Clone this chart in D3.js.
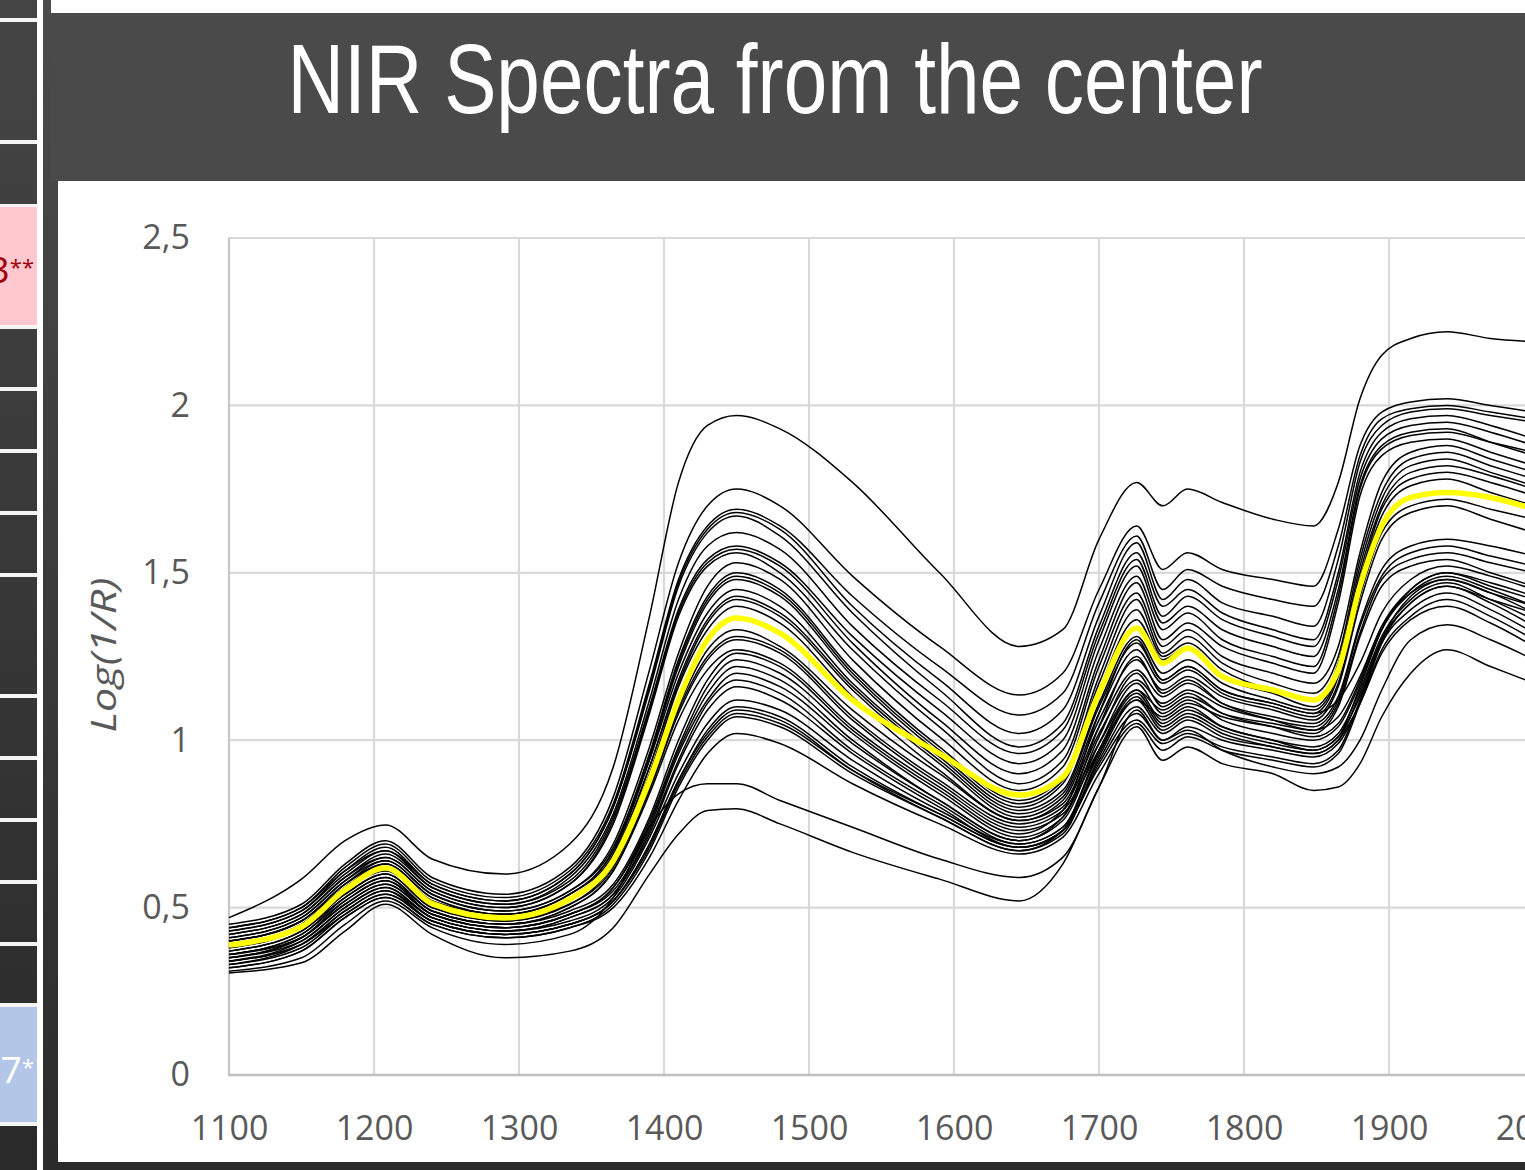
<!DOCTYPE html>
<html><head><meta charset="utf-8">
<script src="https://cdn.jsdelivr.net/npm/d3@7"></script>
<style>
html,body{margin:0;padding:0;background:#3a3a3a;overflow:hidden;}
svg{display:block;}
</style></head><body>
<svg id="c" width="1525" height="1170"></svg>
<script>
// ---------- DATA ----------
const titleText = "NIR Spectra from the center";
const yAxisTitle = "Log(1/R)";
const sideLabelNums = ["3", "7"];
const sideLabelMarks = ["**", "*"];
const xTicks = [1100, 1200, 1300, 1400, 1500, 1600, 1700, 1800, 1900, 2000];
const yTicks = [0, 0.5, 1, 1.5, 2, 2.5];
const yTickLabels = ["0", "0,5", "1", "1,5", "2", "2,5"];

const wavelengths = [1100,1150,1180,1208,1240,1290,1335,1365,1390,1410,1430,1450,1480,1530,1590,1645,1675,1700,1726,1744,1761,1785,1820,1848,1865,1880,1895,1915,1940,1970,2000];

const meanSpectrum = [0.388,0.443,0.553,0.618,0.512,0.469,0.525,0.64,0.88,1.12,1.30,1.365,1.32,1.12,0.96,0.836,0.89,1.14,1.335,1.23,1.275,1.19,1.15,1.12,1.21,1.46,1.64,1.725,1.74,1.725,1.69];

const spec01 = [0.47,0.585,0.70,0.747,0.645,0.60,0.69,0.92,1.37,1.77,1.94,1.97,1.93,1.77,1.50,1.28,1.33,1.60,1.77,1.70,1.75,1.71,1.66,1.64,1.77,2.02,2.15,2.20,2.22,2.20,2.19];
const spec02 = [0.45,0.51,0.63,0.70,0.59,0.54,0.62,0.83,1.21,1.53,1.70,1.75,1.70,1.49,1.28,1.135,1.20,1.45,1.64,1.51,1.56,1.51,1.48,1.46,1.63,1.88,1.98,2.01,2.02,2.00,1.98];
const spec03 = [0.44,0.50,0.62,0.69,0.58,0.53,0.61,0.81,1.17,1.48,1.64,1.69,1.64,1.43,1.22,1.075,1.14,1.41,1.61,1.45,1.51,1.46,1.42,1.40,1.58,1.85,1.96,1.99,2.00,1.98,1.96];
const spec04 = [0.43,0.49,0.61,0.68,0.57,0.52,0.60,0.80,1.16,1.47,1.63,1.68,1.63,1.40,1.18,1.02,1.09,1.37,1.59,1.42,1.48,1.41,1.37,1.34,1.54,1.83,1.94,1.98,1.99,1.97,1.95];
const spec05 = [0.44,0.50,0.61,0.67,0.57,0.52,0.60,0.80,1.15,1.46,1.62,1.67,1.61,1.38,1.15,0.98,1.05,1.34,1.56,1.40,1.45,1.38,1.33,1.30,1.50,1.80,1.92,1.96,1.97,1.94,1.90];
const spec06 = [0.42,0.48,0.59,0.66,0.56,0.51,0.59,0.78,1.12,1.42,1.58,1.62,1.57,1.34,1.12,0.96,1.03,1.32,1.54,1.37,1.43,1.36,1.31,1.28,1.48,1.78,1.90,1.94,1.95,1.92,1.88];
const spec07 = [0.43,0.49,0.60,0.67,0.56,0.51,0.58,0.77,1.10,1.39,1.54,1.58,1.53,1.31,1.09,0.93,1.00,1.30,1.52,1.35,1.40,1.33,1.28,1.25,1.45,1.76,1.88,1.92,1.93,1.89,1.85];
const spec08 = [0.41,0.47,0.58,0.65,0.55,0.50,0.57,0.76,1.09,1.38,1.53,1.57,1.52,1.29,1.06,0.90,0.97,1.27,1.49,1.33,1.38,1.30,1.25,1.22,1.43,1.75,1.87,1.91,1.92,1.89,1.86];
const spec09 = [0.42,0.48,0.59,0.65,0.55,0.50,0.57,0.75,1.08,1.37,1.52,1.56,1.50,1.27,1.04,0.87,0.94,1.24,1.47,1.30,1.35,1.28,1.23,1.20,1.41,1.73,1.85,1.89,1.90,1.86,1.82];
const spec10 = [0.40,0.46,0.57,0.64,0.54,0.49,0.55,0.69,0.98,1.26,1.46,1.53,1.48,1.24,1.01,0.85,0.92,1.22,1.44,1.28,1.33,1.25,1.20,1.17,1.28,1.56,1.77,1.86,1.88,1.84,1.80];
const spec11 = [0.41,0.47,0.58,0.64,0.54,0.49,0.55,0.68,0.96,1.24,1.43,1.50,1.45,1.21,0.98,0.82,0.89,1.19,1.42,1.26,1.31,1.23,1.17,1.14,1.25,1.54,1.74,1.84,1.86,1.82,1.78];
const spec12 = [0.40,0.46,0.57,0.63,0.53,0.48,0.54,0.67,0.95,1.23,1.42,1.49,1.44,1.20,0.97,0.81,0.88,1.17,1.39,1.25,1.29,1.21,1.15,1.12,1.23,1.52,1.72,1.82,1.84,1.80,1.76];
const spec13 = [0.39,0.45,0.56,0.63,0.53,0.48,0.54,0.67,0.95,1.22,1.41,1.48,1.43,1.19,0.96,0.80,0.87,1.15,1.36,1.24,1.28,1.19,1.14,1.10,1.21,1.50,1.70,1.80,1.82,1.79,1.75];
const spec14 = [0.40,0.46,0.56,0.62,0.52,0.48,0.54,0.66,0.94,1.20,1.38,1.45,1.40,1.17,0.95,0.79,0.85,1.11,1.31,1.20,1.24,1.17,1.12,1.09,1.20,1.48,1.69,1.78,1.80,1.77,1.73];
const spec15 = [0.39,0.45,0.56,0.62,0.52,0.47,0.53,0.65,0.92,1.18,1.36,1.43,1.38,1.16,0.94,0.78,0.84,1.10,1.29,1.18,1.22,1.15,1.11,1.08,1.19,1.47,1.67,1.76,1.78,1.74,1.70];
const spec16 = [0.38,0.44,0.55,0.61,0.51,0.47,0.53,0.65,0.92,1.17,1.35,1.42,1.37,1.15,0.93,0.77,0.83,1.08,1.27,1.17,1.21,1.14,1.10,1.07,1.17,1.43,1.62,1.70,1.72,1.69,1.66];
const spec17 = [0.39,0.44,0.55,0.61,0.51,0.46,0.52,0.64,0.90,1.16,1.33,1.40,1.35,1.13,0.91,0.76,0.82,1.06,1.24,1.15,1.19,1.13,1.09,1.06,1.16,1.41,1.60,1.68,1.70,1.66,1.62];
const spec18 = [0.37,0.43,0.54,0.60,0.50,0.46,0.51,0.63,0.87,1.10,1.27,1.33,1.28,1.09,0.90,0.76,0.81,1.04,1.21,1.13,1.17,1.11,1.07,1.05,1.13,1.35,1.51,1.58,1.60,1.58,1.55];
const spec19 = [0.38,0.44,0.54,0.60,0.50,0.46,0.51,0.62,0.86,1.09,1.25,1.31,1.27,1.07,0.88,0.75,0.80,1.02,1.18,1.11,1.15,1.10,1.06,1.04,1.12,1.34,1.49,1.56,1.58,1.55,1.52];
const spec20 = [0.37,0.43,0.53,0.59,0.49,0.45,0.50,0.61,0.85,1.08,1.24,1.30,1.26,1.06,0.87,0.74,0.79,0.99,1.15,1.09,1.13,1.08,1.05,1.03,1.11,1.32,1.48,1.54,1.56,1.53,1.50];
const spec21 = [0.36,0.42,0.53,0.59,0.49,0.45,0.50,0.61,0.84,1.06,1.21,1.27,1.23,1.04,0.86,0.73,0.78,0.97,1.12,1.07,1.11,1.07,1.04,1.02,1.10,1.31,1.46,1.52,1.54,1.50,1.46];
const spec22 = [0.36,0.42,0.52,0.58,0.49,0.45,0.49,0.57,0.77,1.00,1.18,1.26,1.22,1.03,0.85,0.72,0.79,1.08,1.30,1.18,1.22,1.15,1.11,1.08,1.12,1.23,1.38,1.48,1.52,1.49,1.45];
const spec23 = [0.35,0.41,0.52,0.58,0.48,0.44,0.48,0.56,0.76,0.98,1.16,1.24,1.20,1.02,0.84,0.71,0.77,1.01,1.20,1.10,1.14,1.08,1.04,1.01,1.05,1.18,1.34,1.45,1.50,1.46,1.42];
const spec24 = [0.36,0.41,0.51,0.57,0.48,0.44,0.48,0.56,0.75,0.97,1.14,1.22,1.18,1.00,0.82,0.70,0.76,0.99,1.17,1.08,1.12,1.06,1.02,1.00,1.04,1.17,1.33,1.44,1.49,1.45,1.40];
const spec25 = [0.35,0.41,0.51,0.57,0.48,0.44,0.48,0.55,0.74,0.96,1.12,1.20,1.16,0.99,0.82,0.70,0.77,1.04,1.25,1.14,1.18,1.11,1.06,1.03,1.07,1.19,1.34,1.44,1.48,1.44,1.38];
const spec26 = [0.34,0.40,0.50,0.56,0.47,0.43,0.47,0.54,0.73,0.94,1.11,1.18,1.14,0.97,0.81,0.69,0.74,0.97,1.14,1.05,1.09,1.04,1.00,0.98,1.02,1.15,1.31,1.42,1.47,1.42,1.36];
const spec27 = [0.35,0.40,0.50,0.56,0.47,0.43,0.47,0.54,0.72,0.93,1.09,1.16,1.12,0.96,0.80,0.68,0.73,0.94,1.10,1.02,1.06,1.01,0.98,0.96,1.00,1.14,1.30,1.41,1.46,1.41,1.34];
const spec28 = [0.34,0.39,0.49,0.55,0.47,0.43,0.46,0.53,0.71,0.90,1.05,1.12,1.09,0.94,0.79,0.69,0.74,0.96,1.13,1.04,1.08,1.03,0.99,0.97,1.01,1.13,1.29,1.39,1.44,1.39,1.32];
const spec29 = [0.33,0.39,0.49,0.55,0.46,0.42,0.45,0.52,0.69,0.88,1.03,1.10,1.07,0.92,0.78,0.68,0.73,0.93,1.08,1.00,1.04,1.00,0.97,0.95,0.99,1.11,1.27,1.37,1.42,1.37,1.30];
const spec30 = [0.34,0.39,0.48,0.54,0.46,0.42,0.45,0.52,0.69,0.88,1.02,1.09,1.06,0.91,0.77,0.67,0.72,0.95,1.12,1.03,1.07,1.02,0.98,0.96,1.00,1.11,1.26,1.36,1.40,1.35,1.28];
const spec31 = [0.33,0.38,0.48,0.54,0.46,0.42,0.45,0.52,0.68,0.87,1.01,1.08,1.05,0.91,0.78,0.68,0.73,0.92,1.06,0.99,1.02,0.98,0.95,0.93,0.97,1.12,1.30,1.43,1.48,1.44,1.40];
const spec32 = [0.32,0.37,0.47,0.53,0.45,0.41,0.44,0.51,0.67,0.86,1.00,1.07,1.04,0.90,0.77,0.67,0.73,0.97,1.15,1.06,1.10,1.04,1.00,0.97,1.01,1.16,1.33,1.45,1.50,1.47,1.43];
const spec33 = [0.32,0.37,0.47,0.53,0.45,0.41,0.44,0.50,0.65,0.82,0.96,1.02,0.99,0.87,0.75,0.66,0.71,0.90,1.05,0.97,1.01,0.97,0.94,0.92,0.96,1.11,1.29,1.41,1.46,1.42,1.38];
const spec34 = [0.31,0.35,0.45,0.52,0.44,0.39,0.42,0.53,0.74,0.84,0.87,0.87,0.82,0.74,0.645,0.59,0.65,0.86,1.09,1.00,1.03,0.97,0.92,0.90,0.92,1.00,1.15,1.30,1.345,1.30,1.24];
const spec35 = [0.305,0.335,0.43,0.51,0.42,0.35,0.37,0.44,0.60,0.72,0.79,0.795,0.75,0.665,0.585,0.52,0.63,0.86,1.04,0.94,0.98,0.93,0.90,0.85,0.86,0.93,1.07,1.20,1.27,1.22,1.17];

const spectra = [spec01,spec02,spec03,spec04,spec05,spec06,spec07,spec08,spec09,spec10,spec11,spec12,spec13,spec14,spec15,spec16,spec17,spec18,spec19,spec20,spec21,spec22,spec23,spec24,spec25,spec26,spec27,spec28,spec29,spec30,spec31,spec32,spec33,spec34,spec35];

// ---------- DRAW ----------
const svg = d3.select("#c");
const W = 1525, H = 1170;
const defs = svg.append("defs");
const g1 = defs.append("linearGradient").attr("id","panelGrad").attr("x1",0).attr("y1",0).attr("x2",0).attr("y2",1);
g1.append("stop").attr("offset","0").attr("stop-color","#4b4b4b");
g1.append("stop").attr("offset","1").attr("stop-color","#2b2b2b");
const g2 = defs.append("linearGradient").attr("id","stripGrad").attr("x1",0).attr("y1",0).attr("x2",0).attr("y2",1);
g2.append("stop").attr("offset","0").attr("stop-color","#454545");
g2.append("stop").attr("offset","1").attr("stop-color","#2a2a2a");

// left strip (table edge)
svg.append("rect").attr("x",0).attr("y",0).attr("width",37).attr("height",H).attr("fill","url(#stripGrad)");
const sepYs = [18,140,204,325,387,449,511,573,694,756,818,880,942,1003,1122];
svg.selectAll("rect.sep").data(sepYs).join("rect").attr("class","sep")
  .attr("x",0).attr("y",d=>d).attr("width",37).attr("height",4).attr("fill","#f4f4f4");
svg.append("rect").attr("x",0).attr("y",207).attr("width",37).attr("height",118).attr("fill","#ffc7ce");
svg.append("rect").attr("x",0).attr("y",1007).attr("width",37).attr("height",115).attr("fill","#b4c6e7");

function sideLabel(i, yBase, color){
  const t = svg.append("text").attr("x",34).attr("y",yBase).attr("text-anchor","end")
    .attr("font-family","'Open Sans', sans-serif").attr("fill",color);
  t.append("tspan").attr("font-size",37).text(sideLabelNums[i]);
  t.append("tspan").attr("font-size",22).attr("dy",-8).text(sideLabelMarks[i]);
}
sideLabel(0, 283, "#9c0006");
sideLabel(1, 1083, "#ffffff");
svg.append("rect").attr("x",37).attr("y",0).attr("width",6).attr("height",H).attr("fill","#ffffff");

// slide panel
svg.append("rect").attr("x",43).attr("y",0).attr("width",W-43).attr("height",H).attr("fill","url(#panelGrad)");
svg.append("rect").attr("x",51).attr("y",13).attr("width",W-51).attr("height",168).attr("fill","#4a4a4a");
svg.append("rect").attr("x",51).attr("y",0).attr("width",W-51).attr("height",13).attr("fill","#ffffff");
svg.append("rect").attr("x",58).attr("y",181).attr("width",W-58).attr("height",981).attr("fill","#ffffff");

// title
svg.append("text").attr("x",775).attr("y",113).attr("text-anchor","middle")
  .attr("font-family","'Liberation Sans Narrow','Arial Narrow','Liberation Sans',sans-serif")
  .attr("font-size",98).attr("fill","#ffffff")
  .attr("textLength",975).attr("lengthAdjust","spacingAndGlyphs").text(titleText);

// scales
const x = d3.scaleLinear().domain([1100,2000]).range([229,1534]);
const y = d3.scaleLinear().domain([0,2.5]).range([1075,238]);

// grid
const grid = svg.append("g");
grid.selectAll("line.v").data(xTicks.slice(1)).join("line")
  .attr("x1",d=>x(d)).attr("x2",d=>x(d)).attr("y1",y(2.5)).attr("y2",y(0))
  .attr("stroke","#d9d9d9").attr("stroke-width",2.2);
grid.selectAll("line.h").data(yTicks.slice(1)).join("line")
  .attr("x1",x(1100)).attr("x2",W).attr("y1",d=>y(d)).attr("y2",d=>y(d))
  .attr("stroke","#d9d9d9").attr("stroke-width",2.2);
grid.append("line").attr("x1",x(1100)).attr("x2",x(1100)).attr("y1",y(2.5)).attr("y2",y(0))
  .attr("stroke","#c6c6c6").attr("stroke-width",2.2);
grid.append("line").attr("x1",x(1100)-1).attr("x2",W).attr("y1",y(0)).attr("y2",y(0))
  .attr("stroke","#bfbfbf").attr("stroke-width",2.6);

// axes labels
const xAxis = svg.append("g").attr("transform",`translate(0,${y(0)})`)
  .call(d3.axisBottom(x).tickValues(xTicks).tickSize(0).tickPadding(41).tickFormat(d3.format("d")));
xAxis.select(".domain").remove();
xAxis.selectAll("text").attr("font-family","'Open Sans', sans-serif").attr("font-size",34).attr("fill","#595959");

const yAxis = svg.append("g").attr("transform",`translate(${x(1100)},0)`)
  .call(d3.axisLeft(y).tickValues(yTicks).tickSize(0).tickPadding(39).tickFormat((d,i)=>yTickLabels[i]));
yAxis.select(".domain").remove();
yAxis.selectAll("text").attr("font-family","'Open Sans', sans-serif").attr("font-size",34).attr("fill","#595959");

svg.append("text").attr("transform","translate(116,655) rotate(-90)").attr("text-anchor","middle")
  .attr("font-family","'Open Sans', sans-serif").attr("font-style","italic").attr("font-size",34)
  .attr("fill","#595959").attr("textLength",155).attr("lengthAdjust","spacingAndGlyphs").text(yAxisTitle);

// lines
const line = d3.line().x((d,i)=>x(wavelengths[i])).y(d=>y(d)).curve(d3.curveMonotoneX);
svg.append("g").selectAll("path").data(spectra).join("path")
  .attr("d",line).attr("fill","none").attr("stroke","#000").attr("stroke-width",1.5);
svg.append("path").datum(meanSpectrum).attr("d",line).attr("fill","none")
  .attr("stroke","#ffff00").attr("stroke-width",5.5).attr("stroke-linejoin","round");
</script>
</body></html>
